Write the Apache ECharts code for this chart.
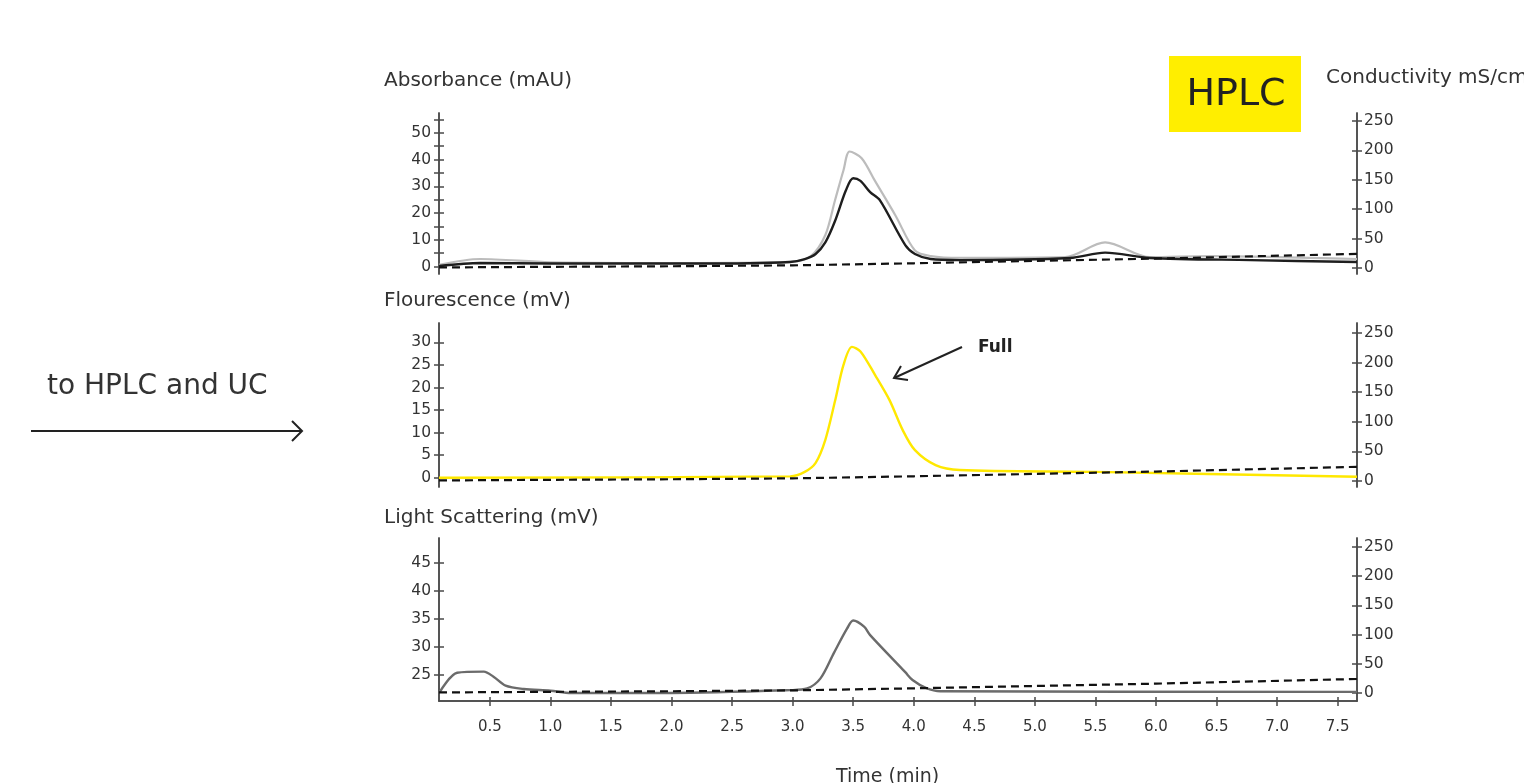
<!DOCTYPE html>
<html>
<head>
<meta charset="utf-8">
<script src="https://cdn.jsdelivr.net/npm/echarts@6/dist/echarts.min.js"></script>
<style>
  html, body { margin: 0; padding: 0; background: #fff; }
  #chart { width: 1524px; height: 783px; }
</style>
</head>
<body>
<div id="chart"></div>
<script>
// tick values
var timeTicks = [0.5, 1.0, 1.5, 2.0, 2.5, 3.0, 3.5, 4.0, 4.5, 5.0, 5.5, 6.0, 6.5, 7.0, 7.5];
var absTicks = [0, 5, 10, 15, 20, 25, 30, 35, 40, 45, 50, 55];
var absLabels = [0, 10, 20, 30, 40, 50];
var flTicks = [0, 5, 10, 15, 20, 25, 30];
var lsTicks = [25, 30, 35, 40, 45];
var condTicks = [0, 50, 100, 150, 200, 250];

// conductivity gradient (mS/cm), dashed in every panel
var condTime = [0.08, 1.0, 2.0, 3.0, 4.0, 5.0, 6.0, 7.66];
var condValue = [1, 2, 3, 4.5, 8, 12, 16, 24];

// absorbance, light grey trace
var absGreyTime = [0.08, 0.42, 1.0, 2.2, 2.98, 3.15, 3.27, 3.35, 3.42, 3.47, 3.57, 3.68, 3.85, 4.01, 4.14, 4.38, 5.25, 5.58, 5.95, 6.45, 7.66];
var absGreyValue = [0.6, 2.8, 1.6, 1.3, 1.7, 3.9, 11.8, 24.8, 36, 43, 40.5, 32, 19, 6, 3.9, 3.2, 3.5, 9, 3.5, 3.9, 2.8];

// absorbance, dark trace
var absDarkTime = [0.08, 0.42, 1.0, 2.24, 2.98, 3.1, 3.19, 3.27, 3.35, 3.44, 3.5, 3.56, 3.64, 3.72, 3.93, 4.01, 4.14, 4.38, 5.29, 5.58, 5.95, 6.78, 7.66];
var absDarkValue = [0.2, 1.3, 1.1, 1.1, 1.7, 2.8, 4.7, 9, 17, 28.5, 33, 32, 27.8, 24.8, 8, 4.7, 2.8, 2.4, 3.2, 5.2, 3.2, 2.4, 1.7];

// fluorescence
var flTime = [0.08, 2.98, 3.1, 3.19, 3.27, 3.35, 3.42, 3.49, 3.56, 3.68, 3.8, 3.91, 4.01, 4.18, 4.38, 5.5, 7.66];
var flValue = [0, 0.3, 1.3, 3.3, 8.4, 17, 25, 29, 28, 22.8, 17.2, 10.5, 6.1, 2.8, 1.7, 1.3, 0.2];

// light scattering
var lsTime = [0.087, 0.23, 0.45, 0.53, 0.63, 0.78, 1.0, 1.17, 1.99, 2.98, 3.12, 3.23, 3.34, 3.45, 3.5, 3.59, 3.64, 3.93, 3.99, 4.1, 4.22, 7.66];
var lsValue = [22.0, 25.4, 25.6, 24.7, 23.1, 22.5, 22.2, 21.8, 21.8, 22.3, 22.6, 24.4, 28.9, 33.3, 34.7, 33.6, 32.1, 25.5, 24.1, 22.7, 22.1, 22.0];

var FONT = '"DejaVu Sans", sans-serif';
var AXIS_COLOR = '#4a4a4a';

function pairs (xs, ys) {
  var out = [];
  for (var i = 0; i < xs.length; i++) out.push([xs[i], ys[i]]);
  return out;
}

// two axes on top of each other so the ticks cross the line
function yPair (grid, pos, min, max, ticks, labels) {
  var line = { show: true, onZero: false, lineStyle: { color: AXIS_COLOR, width: 1.5 } };
  var outer = {
    type: 'value', gridIndex: grid, position: pos, min: min, max: max,
    axisLine: line,
    splitLine: { show: false },
    axisTick: { show: true, length: 5, customValues: ticks, lineStyle: { color: AXIS_COLOR, width: 1.5 } },
    axisLabel: { show: true, customValues: labels, margin: pos == 'left' ? 8 : 7,
      color: '#333', fontSize: 15.5, fontFamily: FONT }
  };
  var inner = {
    type: 'value', gridIndex: grid, position: pos, min: min, max: max,
    axisLine: line,
    splitLine: { show: false },
    axisTick: { show: true, inside: true, length: 5, customValues: ticks, lineStyle: { color: AXIS_COLOR, width: 1.5 } },
    axisLabel: { show: false }
  };
  return [outer, inner];
}

function hiddenX (grid) {
  return { type: 'value', gridIndex: grid, min: 0.08, max: 7.66, show: false };
}

function lineSeries (name, x, y, data, color, width, dashed) {
  return {
    name: name, type: 'line', xAxisIndex: x, yAxisIndex: y,
    data: data, showSymbol: false, smooth: dashed ? false : 0.3,
    lineStyle: { color: color, width: width, type: dashed ? [8, 5] : 'solid' },
    silent: true, z: dashed ? 3 : 2
  };
}

function label (text, x, y, size, extra) {
  return {
    type: 'text', x: x, y: y,
    style: Object.assign({ text: text, fill: '#333', font: size + 'px ' + FONT, verticalAlign: 'middle' }, extra || {})
  };
}

function drawChart () {

  var chartDom = document.getElementById('chart');
  var myChart = echarts.init(chartDom);
  var option;

  var yAxes = []
    .concat(yPair(0, 'left', -2.8, 57.4, absTicks, absLabels))
    .concat(yPair(0, 'right', -10.2, 263.6, condTicks, condTicks))
    .concat(yPair(1, 'left', -2.06, 34.3, flTicks, flTicks))
    .concat(yPair(1, 'right', -10.1, 266.9, condTicks, condTicks))
    .concat(yPair(2, 'left', 20.37, 49.4, lsTicks, lsTicks))
    .concat(yPair(2, 'right', -13.7, 265.4, condTicks, condTicks));

  var timeAxisBase = {
    type: 'value', gridIndex: 2, min: 0.08, max: 7.66, position: 'bottom',
    axisLine: { show: true, onZero: false, lineStyle: { color: AXIS_COLOR, width: 1.5 } },
    splitLine: { show: false }
  };

  var cond = pairs(condTime, condValue);

  option = {
    backgroundColor: '#fff',
    animation: false,
    grid: [
      { left: 439, right: 167, top: 113, height: 161 },
      { left: 439, right: 167, top: 323, height: 164 },
      { left: 439, right: 167, top: 538, height: 163 }
    ],
    xAxis: [
      hiddenX(0),
      hiddenX(1),
      Object.assign({}, timeAxisBase, {
        axisTick: { show: true, length: 5, customValues: timeTicks, lineStyle: { color: AXIS_COLOR, width: 1.5 } },
        axisLabel: { show: true, customValues: timeTicks, margin: 19, color: '#333', fontSize: 15, fontFamily: FONT,
          formatter: function (v) { return v.toFixed(1); } }
      }),
      Object.assign({}, timeAxisBase, {
        axisTick: { show: true, inside: true, length: 4, customValues: timeTicks, lineStyle: { color: AXIS_COLOR, width: 1.5 } },
        axisLabel: { show: false }
      })
    ],
    yAxis: yAxes,
    series: [
      lineSeries('Conductivity', 0, 2, cond, '#111', 2.2, true),
      lineSeries('Absorbance grey', 0, 0, pairs(absGreyTime, absGreyValue), '#bcbcbc', 2.2, false),
      lineSeries('Absorbance', 0, 0, pairs(absDarkTime, absDarkValue), '#1e1e1e', 2.4, false),
      lineSeries('Conductivity', 1, 6, cond, '#111', 2.2, true),
      lineSeries('Flourescence', 1, 4, pairs(flTime, flValue), '#ffe800', 2.4, false),
      lineSeries('Conductivity', 2, 10, cond, '#111', 2.2, true),
      lineSeries('Light Scattering', 2, 8, pairs(lsTime, lsValue), '#6b6b6b', 2.4, false)
    ],
    graphic: [
      label('Absorbance (mAU)', 384, 81, 20),
      label('Flourescence (mV)', 384, 301, 20),
      label('Light Scattering (mV)', 384, 518, 20),
      label('Conductivity mS/cm', 1326, 78, 20),
      { type: 'rect', shape: { x: 1169, y: 56, width: 132, height: 76 }, style: { fill: '#ffee00' } },
      label('HPLC', 1236, 95, 38, { fill: '#222', align: 'center' }),
      label('Full', 978, 348, 17, { fill: '#222', font: 'bold 17px ' + FONT }),
      { type: 'polyline', shape: { points: [[962, 347], [894, 378]] }, style: { stroke: '#222', lineWidth: 2, fill: null } },
      { type: 'polyline', shape: { points: [[901, 366], [894, 378], [908, 380]] }, style: { stroke: '#222', lineWidth: 2, fill: null } },
      label('to HPLC and UC', 47, 387, 28),
      { type: 'polyline', shape: { points: [[31, 431], [302, 431]] }, style: { stroke: '#222', lineWidth: 2, fill: null } },
      { type: 'polyline', shape: { points: [[292, 421], [302, 431], [292, 441]] }, style: { stroke: '#222', lineWidth: 2, fill: null } },
      label('Time (min)', 836, 777, 19)
    ]
  };

  option && myChart.setOption(option);

}

drawChart()
</script>
</body>
</html>
